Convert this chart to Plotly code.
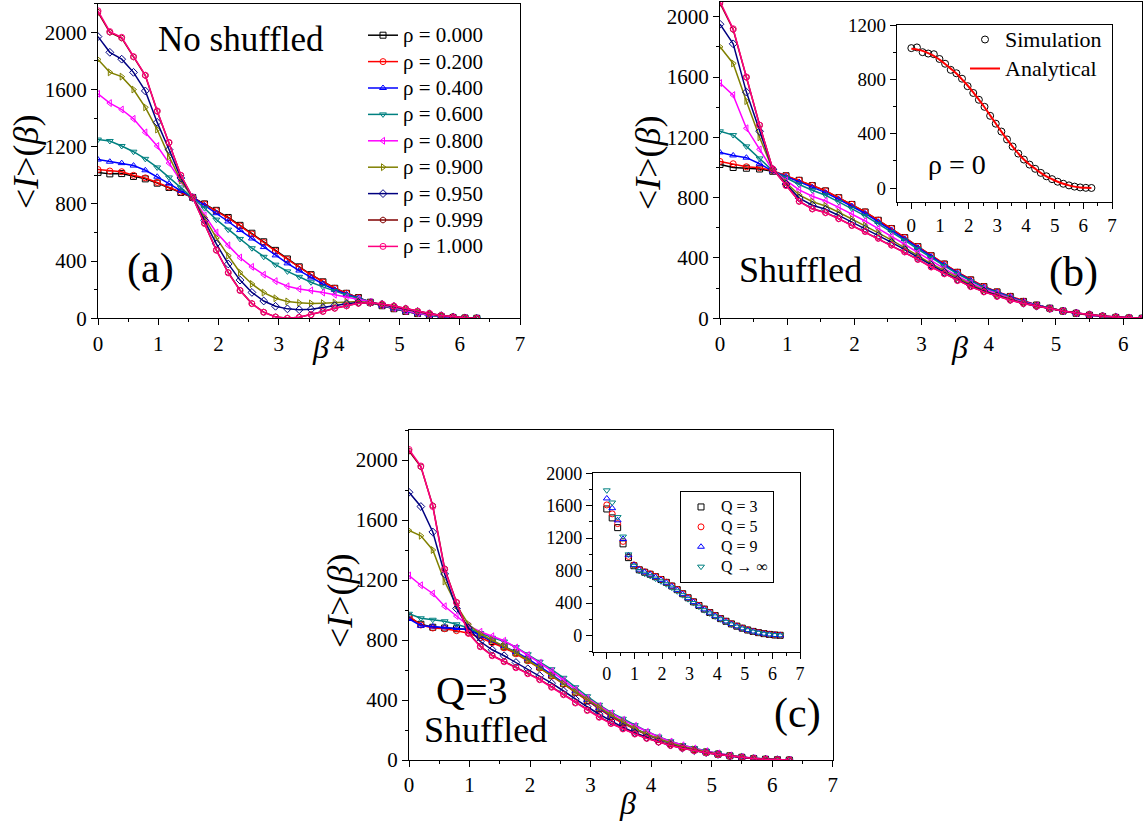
import plotly.graph_objects as go

FONT = "Liberation Serif, Times New Roman, serif"
W, H = 1144, 824

# ---------------- data ----------------
BETA = [0.000, 0.196, 0.393, 0.589, 0.785, 0.982, 1.178, 1.374, 1.571, 1.767, 1.963,
        2.160, 2.356, 2.553, 2.749, 2.945, 3.142, 3.338, 3.534, 3.731, 3.927, 4.123,
        4.320, 4.516, 4.712, 4.909, 5.105, 5.301, 5.498, 5.694, 5.890, 6.087, 6.283]

RHO_LABELS = ["ρ = 0.000", "ρ = 0.200", "ρ = 0.400", "ρ = 0.600", "ρ = 0.800",
              "ρ = 0.900", "ρ = 0.950", "ρ = 0.999", "ρ = 1.000"]

# panel (a) : No shuffled
A_RHO_000 = [1020, 1010, 1012, 992, 975, 945, 915, 880, 845, 800, 755, 705, 650, 595, 535, 475, 415, 360, 305, 255, 210, 175, 145, 112, 88, 67, 48, 33, 21, 12, 6, 2, 0]
A_RHO_020 = [1040, 1030, 1025, 1000, 982, 950, 918, 882, 845, 799, 752, 701, 646, 590, 530, 470, 411, 357, 303, 254, 210, 175, 145, 112, 88, 67, 48, 33, 21, 12, 6, 2, 0]
A_RHO_040 = [1110, 1095, 1085, 1068, 1035, 990, 942, 892, 845, 790, 735, 677, 617, 558, 498, 440, 384, 334, 285, 240, 200, 168, 142, 112, 89, 68, 49, 34, 22, 13, 6, 2, 0]
A_RHO_060 = [1250, 1240, 1205, 1165, 1115, 1055, 985, 915, 845, 770, 690, 620, 555, 490, 430, 375, 328, 290, 252, 220, 190, 162, 138, 113, 89, 68, 49, 33, 21, 12, 6, 2, 0]
A_RHO_080 = [1570, 1505, 1460, 1395, 1300, 1205, 1085, 960, 845, 720, 600, 510, 425, 360, 305, 260, 224, 205, 195, 180, 165, 148, 132, 115, 92, 72, 52, 36, 24, 14, 7, 2, 0]
A_RHO_090 = [1810, 1720, 1690, 1600, 1475, 1320, 1132, 963, 845, 705, 562, 438, 320, 240, 180, 140, 118, 108, 104, 106, 110, 114, 117, 109, 96, 80, 62, 45, 30, 18, 8, 3, 0]
A_RHO_095 = [1970, 1860, 1812, 1720, 1590, 1370, 1180, 981, 845, 685, 521, 380, 267, 181, 121, 84, 66, 60, 63, 75, 90, 101, 111, 109, 98, 83, 65, 47, 32, 19, 9, 3, 0]
A_RHO_0999 = [2140, 2000, 1960, 1828, 1698, 1448, 1229, 1000, 845, 664, 477, 320, 196, 103, 43, 10, 1, 7, 25, 48, 70, 87, 105, 108, 100, 86, 68, 50, 34, 20, 9, 3, 0]
A_RHO_100 = [2150, 2005, 1965, 1830, 1700, 1450, 1230, 1000, 845, 663, 476, 318, 194, 102, 42, 9, 0, 7, 25, 48, 70, 87, 105, 108, 100, 86, 68, 50, 34, 20, 9, 3, 0]

# panel (b) : Shuffled
B_RHO_000 = [1020, 1000, 995, 990, 975, 945, 915, 880, 845, 800, 755, 705, 650, 595, 535, 475, 415, 360, 305, 255, 210, 175, 145, 112, 88, 67, 48, 33, 21, 12, 6, 2, 0]
B_RHO_020 = [1040, 1025, 1005, 998, 978, 946, 916, 881, 846, 801, 756, 706, 651, 596, 536, 476, 416, 361, 306, 256, 211, 176, 146, 113, 88, 67, 48, 33, 21, 12, 6, 2, 0]
B_RHO_040 = [1100, 1080, 1065, 1025, 976, 940, 904, 868, 833, 789, 744, 695, 640, 586, 527, 468, 409, 355, 301, 251, 207, 173, 143, 111, 87, 67, 48, 33, 21, 12, 6, 2, 0]
B_RHO_060 = [1240, 1215, 1140, 1060, 978, 932, 887, 849, 816, 772, 727, 679, 626, 573, 516, 458, 400, 347, 294, 246, 203, 169, 140, 109, 86, 66, 48, 33, 22, 12, 6, 2, 0]
B_RHO_080 = [1560, 1480, 1260, 1120, 982, 915, 851, 809, 778, 736, 691, 645, 595, 544, 491, 436, 380, 330, 280, 234, 194, 161, 133, 106, 84, 65, 48, 34, 22, 13, 7, 2, 0]
B_RHO_090 = [1800, 1690, 1440, 1200, 985, 900, 818, 773, 745, 703, 658, 615, 567, 519, 469, 416, 363, 315, 267, 224, 186, 154, 128, 102, 82, 65, 48, 34, 23, 14, 7, 2, 0]
B_RHO_095 = [1950, 1820, 1500, 1240, 988, 890, 797, 750, 723, 682, 637, 596, 549, 503, 455, 404, 352, 305, 259, 217, 181, 150, 124, 100, 81, 64, 48, 35, 24, 15, 8, 3, 0]
B_RHO_0999 = [2090, 1915, 1598, 1282, 991, 881, 776, 726, 701, 661, 616, 576, 531, 486, 441, 391, 341, 296, 251, 211, 176, 146, 121, 98, 80, 63, 48, 35, 24, 15, 8, 3, 0]
B_RHO_100 = [2100, 1920, 1600, 1280, 990, 880, 775, 725, 700, 660, 615, 575, 530, 485, 440, 390, 340, 295, 250, 210, 175, 145, 120, 98, 80, 63, 48, 35, 24, 15, 8, 3, 0]

# panel (c) : Q=3 Shuffled
C_RHO_000 = [950, 905, 885, 880, 875, 870, 835, 790, 755, 715, 668, 620, 565, 510, 452, 395, 342, 292, 248, 208, 170, 138, 111, 88, 69, 53, 39, 28, 18, 10, 5, 2, 0]
C_RHO_020 = [960, 900, 880, 875, 862, 845, 815, 782, 748, 708, 662, 613, 560, 505, 448, 392, 338, 288, 245, 205, 168, 136, 109, 87, 68, 52, 38, 27, 17, 10, 5, 2, 0]
C_RHO_040 = [940, 895, 890, 885, 880, 870, 830, 795, 760, 720, 675, 625, 570, 515, 458, 400, 345, 296, 251, 210, 172, 139, 112, 89, 70, 53, 39, 28, 18, 10, 5, 2, 0]
C_RHO_060 = [975, 945, 935, 925, 905, 880, 845, 815, 790, 752, 705, 655, 605, 548, 485, 425, 368, 318, 275, 232, 192, 156, 125, 100, 78, 60, 44, 31, 20, 12, 6, 2, 0]
C_RHO_080 = [1230, 1165, 1110, 1025, 960, 895, 855, 825, 795, 750, 700, 648, 592, 532, 470, 412, 360, 312, 268, 228, 188, 153, 123, 98, 77, 59, 44, 31, 20, 12, 6, 2, 0]
C_RHO_090 = [1530, 1495, 1400, 1190, 1030, 905, 840, 800, 760, 715, 665, 615, 562, 508, 455, 402, 350, 300, 254, 210, 172, 140, 113, 90, 71, 54, 40, 28, 18, 11, 5, 2, 0]
C_RHO_095 = [1785, 1690, 1520, 1240, 1010, 880, 790, 735, 695, 650, 608, 562, 512, 460, 405, 355, 305, 260, 218, 182, 150, 122, 99, 80, 63, 49, 37, 26, 17, 10, 5, 2, 0]
C_RHO_0999 = [2060, 1955, 1695, 1275, 1052, 848, 758, 698, 658, 618, 578, 537, 488, 438, 383, 333, 287, 245, 209, 175, 145, 120, 98, 79, 63, 49, 37, 27, 18, 10, 5, 2, 0]
C_RHO_100 = [2070, 1960, 1690, 1270, 1050, 845, 755, 695, 655, 615, 575, 535, 485, 435, 380, 330, 285, 243, 207, 173, 144, 119, 97, 78, 62, 48, 36, 26, 17, 10, 5, 2, 0]

# inset of (b) : rho = 0
INSET_B_SIM = [1030, 1035, 1000, 990, 985, 950, 915, 870, 845, 805, 750, 700, 650, 598, 532, 474, 416, 358, 306, 254, 210, 173, 142, 112, 87, 66, 47, 32, 20, 11, 5, 2, 1]
INSET_B_ANA = [1025, 1020, 1010, 993, 973, 945, 913, 879, 843, 800, 755, 705, 651, 595, 535, 475, 415, 359, 305, 255, 210, 174, 143, 112, 87, 66, 47, 32, 20, 11, 5, 2, 0]

# inset of (c) : different Q
Q_LABELS = ["Q = 3", "Q = 5", "Q = 9", "Q → ∞"]
INSET_C_Q3 = [1560, 1450, 1330, 1130, 960, 860, 810, 780, 755, 725, 690, 655, 610, 565, 515, 465, 415, 370, 325, 283, 245, 208, 175, 143, 115, 90, 68, 50, 35, 23, 13, 6, 2]
INSET_C_Q5 = [1610, 1500, 1380, 1160, 975, 870, 815, 785, 760, 728, 693, 657, 612, 567, 517, 467, 417, 371, 326, 284, 246, 209, 176, 144, 116, 91, 69, 51, 36, 24, 14, 7, 3]
INSET_C_Q9 = [1690, 1570, 1420, 1190, 990, 870, 812, 780, 752, 720, 686, 650, 605, 560, 510, 460, 412, 366, 322, 280, 242, 206, 173, 141, 113, 88, 67, 49, 34, 22, 12, 6, 2]
INSET_C_QINF = [1790, 1640, 1460, 1220, 1000, 860, 795, 762, 735, 702, 668, 632, 590, 545, 497, 448, 400, 355, 312, 272, 235, 200, 168, 137, 110, 86, 65, 47, 33, 21, 12, 5, 1]

A_SERIES = [A_RHO_000, A_RHO_020, A_RHO_040, A_RHO_060, A_RHO_080, A_RHO_090, A_RHO_095, A_RHO_0999, A_RHO_100]
B_SERIES = [B_RHO_000, B_RHO_020, B_RHO_040, B_RHO_060, B_RHO_080, B_RHO_090, B_RHO_095, B_RHO_0999, B_RHO_100]
C_SERIES = [C_RHO_000, C_RHO_020, C_RHO_040, C_RHO_060, C_RHO_080, C_RHO_090, C_RHO_095, C_RHO_0999, C_RHO_100]
Q_SERIES = [INSET_C_Q3, INSET_C_Q5, INSET_C_Q9, INSET_C_QINF]

# ---------------- styles ----------------
COLORS = ["#000000", "#FF0000", "#0000FF", "#008080", "#FF00FF",
          "#808000", "#000080", "#800000", "#FF0080"]
SYMBOLS = ["square-open", "circle-open", "triangle-up-open", "triangle-down-open",
           "triangle-left-open", "triangle-right-open", "diamond-open", "hexagon-open", "circle-open"]
Q_COLORS = ["#000000", "#FF0000", "#0000FF", "#008080"]
Q_SYMBOLS = ["square-open", "circle-open", "triangle-up-open", "triangle-down-open"]


def big(text, size):
    return "<span style='font-size:%dpx'>%s</span>" % (size, text)


fig = go.Figure()

for panel, series, xa, ya in [("a", A_SERIES, "x", "y"), ("b", B_SERIES, "x2", "y2"), ("c", C_SERIES, "x3", "y3")]:
    for i, ys in enumerate(series):
        fig.add_trace(go.Scatter(
            x=BETA, y=ys, xaxis=xa, yaxis=ya, mode="lines+markers",
            name=big(RHO_LABELS[i], 21), legend="legend", showlegend=(panel == "a"),
            line=dict(color=COLORS[i], width=1.5),
            marker=dict(symbol=SYMBOLS[i], size=6, color=COLORS[i],
                        line=dict(width=1, color=COLORS[i])),
        ))

fig.add_trace(go.Scatter(x=BETA, y=INSET_B_SIM, xaxis="x4", yaxis="y4", mode="markers",
                         name=big("Simulation", 22), legend="legend2",
                         marker=dict(symbol="circle-open", size=7, color="black",
                                     line=dict(width=1, color="black"))))
fig.add_trace(go.Scatter(x=BETA, y=INSET_B_ANA, xaxis="x4", yaxis="y4", mode="lines",
                         name=big("Analytical", 22), legend="legend2", line_shape="spline",
                         line=dict(color="#FF0000", width=2)))

for i, ys in enumerate(Q_SERIES):
    fig.add_trace(go.Scatter(x=BETA, y=ys, xaxis="x5", yaxis="y5", mode="markers",
                             name=big(Q_LABELS[i], 16), legend="legend3",
                             marker=dict(symbol=Q_SYMBOLS[i], size=6, color=Q_COLORS[i],
                                         line=dict(width=1, color=Q_COLORS[i]))))


def px_x(p):
    return p / W


def px_y(p):
    return 1 - p / H


def axis(domain, anchor, rng, dtick, mdtick, fsize):
    return dict(domain=domain, anchor=anchor, range=rng, dtick=dtick, tick0=0,
                automargin=False,
                ticks="outside", ticklen=6, tickwidth=1.2, tickcolor="black",
                minor=dict(ticks="outside", ticklen=3, tickwidth=1.2, dtick=mdtick,
                           tick0=0, tickcolor="black"),
                showline=True, linecolor="black", linewidth=1.3, mirror=True,
                showgrid=False, zeroline=False, fixedrange=True,
                tickfont=dict(family=FONT, size=fsize, color="black"))


def over(overlay, anchor, side, rng, dtick, mdtick):
    return dict(overlaying=overlay, anchor=anchor, side=side, range=rng, dtick=dtick, tick0=0,
                automargin=False,
                ticks="inside", ticklen=6, tickwidth=1.2, tickcolor="black",
                minor=dict(ticks="inside", ticklen=3, tickwidth=1.2, dtick=mdtick,
                           tick0=0, tickcolor="black"),
                showline=False, showgrid=False, zeroline=False, showticklabels=False,
                fixedrange=True)


panels = [
    # n, xdom px, ydom px(top,bottom), xrange, yrange, xdt, xmdt, ydt, ymdt, fsize
    (1, (98, 520), (3.7, 318.3), [0, 7], [0, 2200], 1, 0.5, 400, 200, 21),
    (2, (720, 1142.2), (1.6, 318.3), [0, 6.2832], [0, 2100], 1, 0.5, 400, 200, 21),
    (3, (409, 832.7), (430, 760), [0, 7], [0, 2200], 1, 0.5, 400, 200, 21),
    (4, (897, 1112), (25, 201.7), [-0.5, 7], [-100, 1200], 1, 0.5, 400, 200, 19),
    (5, (593, 800), (473.3, 651.7), [-0.5, 7], [-200, 2000], 1, 0.5, 400, 200, 18),
]

layout_axes = {}
for n, xd, yd, xr, yr, xdt, xm, ydt, ym, fs in panels:
    sx = "" if n == 1 else str(n)
    xdom = [px_x(xd[0]), px_x(xd[1])]
    ydom = [px_y(yd[1]), px_y(yd[0])]
    layout_axes["xaxis" + sx] = axis(xdom, "y" + sx, xr, xdt, xm, fs)
    layout_axes["yaxis" + sx] = axis(ydom, "x" + sx, yr, ydt, ym, fs)
    layout_axes["xaxis" + str(n + 5)] = over("x" + sx, "y" + sx, "top", xr, xdt, xm)
    layout_axes["yaxis" + str(n + 5)] = over("y" + sx, "x" + sx, "right", yr, ydt, ym)


def ann(text, x, y, size, angle=0):
    return dict(text=text, x=px_x(x), y=px_y(y), xref="paper", yref="paper",
                xanchor="center", yanchor="middle", showarrow=False, textangle=angle,
                font=dict(family=FONT, size=size, color="black"))


YTITLE = "&lt;<i>I</i>&gt;(<i>β</i>)"
XTITLE = "<i>β</i>"
annotations = [
    ann(YTITLE, 26, 162, 36, -90),
    ann(YTITLE, 648, 163, 36, -90),
    ann(YTITLE, 340, 601, 36, -90),
    ann(XTITLE, 320, 347, 32),
    ann(XTITLE, 959, 347, 32),
    ann(XTITLE, 627, 803, 32),
    ann("No shuffled", 241, 40, 35),
    ann("(a)", 150, 268, 42),
    ann("Shuffled", 800, 270, 36),
    ann("(b)", 1073, 272, 42),
    ann("ρ = 0", 957, 165, 28),
    ann("Q=3", 471, 690, 40),
    ann("Shuffled", 485, 730, 36),
    ann("(c)", 797, 713, 42),
]

fig.update_layout(
    width=W, height=H, autosize=False,
    margin=dict(l=0, r=0, t=0, b=0, pad=0, autoexpand=False),
    paper_bgcolor="white", plot_bgcolor="white",
    font=dict(family=FONT, color="black"),
    annotations=annotations,
    legend=dict(x=px_x(363), y=px_y(17), xanchor="left", yanchor="top",
                font=dict(family=FONT, size=18, color="black"),
                bgcolor="rgba(0,0,0,0)", borderwidth=0, tracegroupgap=0),
    legend2=dict(x=px_x(965), y=px_y(20), xanchor="left", yanchor="top",
                 font=dict(family=FONT, size=20, color="black"),
                 bgcolor="rgba(0,0,0,0)", borderwidth=0),
    legend3=dict(x=px_x(680), y=px_y(491), xanchor="left", yanchor="top",
                 font=dict(family=FONT, size=13, color="black"),
                 bgcolor="white", bordercolor="black", borderwidth=1),
    **layout_axes,
)

POST = ("var h=document.documentElement,b=document.body;"
        "h.style.margin='0';h.style.padding='0';h.style.overflow='hidden';"
        "b.style.margin='0';b.style.padding='0';b.style.overflow='hidden';"
        "var d=document.getElementById('{plot_id}');"
        "d.style.position='fixed';d.style.left='0px';d.style.top='0px';")

fig.write_html("out.html", config={"displayModeBar": False}, post_script=POST)
